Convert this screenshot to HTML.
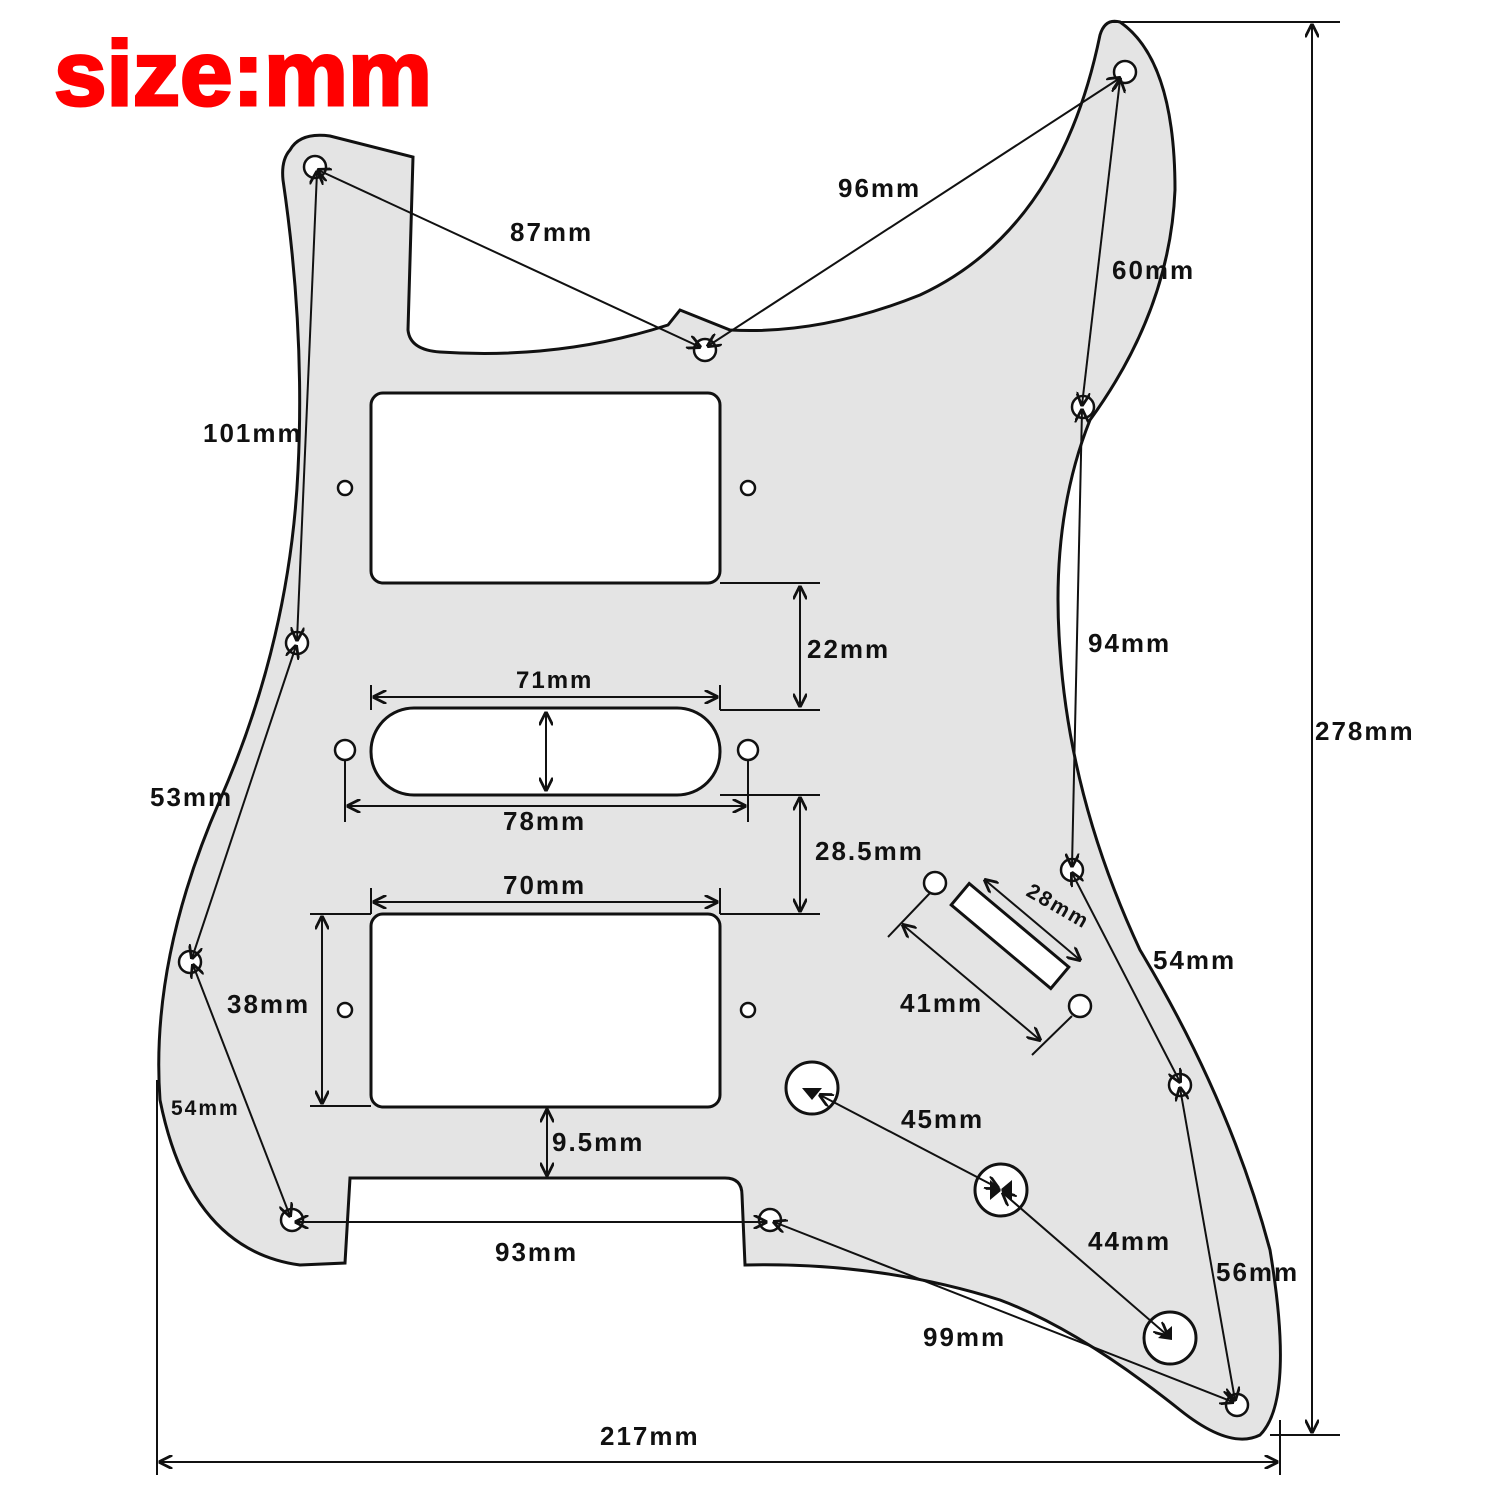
<!DOCTYPE html>
<html><head><meta charset="utf-8"><style>
html,body{margin:0;padding:0;background:#fff;}
svg{display:block;}
text{font-family:"Liberation Sans",sans-serif;font-weight:bold;fill:#111;}
</style></head><body>
<svg width="1500" height="1500" viewBox="0 0 1500 1500" xmlns="http://www.w3.org/2000/svg">
<defs>
<marker id="a" viewBox="0 0 10 10" refX="9" refY="5" markerWidth="7" markerHeight="7" orient="auto-start-reverse"><path d="M0,0 L10,5 L0,10" fill="none" stroke="#111" stroke-width="2"/></marker>
</defs>
<text x="54" y="105" font-size="92" style="fill:#f00;stroke:#f00;stroke-width:3" textLength="378" lengthAdjust="spacingAndGlyphs">size:mm</text>

<path d="M290,150 Q300,132 330,136 L413,157 L408,330 Q410,350 440,352 Q560,360 668,325 L680,310 L730,330 Q820,335 920,295 Q1060,230 1100,35 Q1105,18 1120,22 Q1175,60 1175,190 Q1170,310 1090,420 Q1050,520 1060,650 Q1070,800 1140,950 Q1230,1100 1270,1250 Q1295,1400 1260,1435 Q1230,1450 1180,1410 Q1080,1330 1000,1300 Q880,1262 745,1265 L742,1195 Q742,1178 725,1178 L350,1178 L345,1263 L300,1265 Q190,1250 160,1100 Q150,960 220,800 Q290,640 298,470 Q305,330 283,180 Q281,160 290,150 Z" fill="#e4e4e4" stroke="#111" stroke-width="3"/>

<g fill="#fff" stroke="#111" stroke-width="3">
<rect x="371" y="393" width="349" height="190" rx="12"/>
<rect x="371" y="708" width="349" height="87" rx="43"/>
<rect x="371" y="914" width="349" height="193" rx="12"/>
<rect x="945" y="922" width="130" height="28" transform="rotate(40 1010 936)"/>
<circle cx="812" cy="1088" r="26"/><circle cx="1001" cy="1190" r="26"/><circle cx="1170" cy="1338" r="26"/>
</g>
<g fill="#fff" stroke="#111" stroke-width="2.5">
<circle cx="315" cy="167" r="11"/><circle cx="1125" cy="72" r="11"/><circle cx="705" cy="350" r="11"/><circle cx="1083" cy="407" r="11"/><circle cx="297" cy="643" r="11"/><circle cx="1072" cy="870" r="11"/><circle cx="190" cy="962" r="11"/><circle cx="1180" cy="1085" r="11"/><circle cx="292" cy="1220" r="11"/><circle cx="770" cy="1220" r="11"/><circle cx="1237" cy="1405" r="11"/>
<circle cx="345" cy="488" r="7"/><circle cx="748" cy="488" r="7"/><circle cx="345" cy="1010" r="7"/><circle cx="748" cy="1010" r="7"/>
<circle cx="345" cy="750" r="10"/><circle cx="748" cy="750" r="10"/><circle cx="935" cy="883" r="11"/><circle cx="1080" cy="1006" r="11"/>
</g>
<g fill="#111"><path d="M812,1100 l-10,-12 h20z"/><path d="M990,1180 l12,10 l-12,10z M1012,1180 l-12,10 l12,10z"/><path d="M1158,1338 l14,-12 v14z"/></g>

<g stroke="#111" stroke-width="2" fill="none">
<line x1="1110" y1="22" x2="1340" y2="22"/><line x1="1270" y1="1435" x2="1340" y2="1435"/>
<line x1="157" y1="1080" x2="157" y2="1475"/><line x1="1280" y1="1420" x2="1280" y2="1475"/>
<line x1="720" y1="583" x2="820" y2="583"/><line x1="720" y1="710" x2="820" y2="710"/>
<line x1="720" y1="795" x2="820" y2="795"/><line x1="720" y1="914" x2="820" y2="914"/>
<line x1="371" y1="685" x2="371" y2="710"/><line x1="720" y1="685" x2="720" y2="710"/>
<line x1="371" y1="888" x2="371" y2="914"/><line x1="720" y1="888" x2="720" y2="914"/>
<line x1="345" y1="760" x2="345" y2="822"/><line x1="748" y1="760" x2="748" y2="822"/>
<line x1="310" y1="914" x2="371" y2="914"/><line x1="310" y1="1106" x2="371" y2="1106"/>
<line x1="888" y1="937" x2="930" y2="893"/><line x1="1032" y1="1055" x2="1072" y2="1016"/>
</g>
<g stroke="#111" stroke-width="2" fill="none" marker-start="url(#a)" marker-end="url(#a)">
<line x1="1312" y1="25" x2="1312" y2="1432"/>
<line x1="160" y1="1462" x2="1277" y2="1462"/>
<line x1="800" y1="587" x2="800" y2="706"/>
<line x1="800" y1="798" x2="800" y2="911"/>
<line x1="374" y1="697" x2="717" y2="697"/>
<line x1="348" y1="806" x2="745" y2="806"/>
<line x1="374" y1="902" x2="717" y2="902"/>
<line x1="322" y1="917" x2="322" y2="1103"/>
<line x1="547" y1="1110" x2="547" y2="1175"/>
<line x1="546" y1="713" x2="546" y2="790"/>
<line x1="318" y1="170" x2="700" y2="347"/>
<line x1="1120" y1="78" x2="708" y2="346"/>
<line x1="1120" y1="80" x2="1082" y2="405"/>
<line x1="1082" y1="410" x2="1072" y2="866"/>
<line x1="1072" y1="873" x2="1180" y2="1082"/>
<line x1="1180" y1="1088" x2="1235" y2="1400"/>
<line x1="774" y1="1222" x2="1233" y2="1402"/>
<line x1="296" y1="1222" x2="766" y2="1222"/>
<line x1="193" y1="965" x2="290" y2="1216"/>
<line x1="296" y1="646" x2="192" y2="958"/>
<line x1="317" y1="172" x2="297" y2="640"/>
<line x1="820" y1="1095" x2="998" y2="1188"/>
<line x1="1003" y1="1193" x2="1167" y2="1335"/>
<line x1="985" y1="880" x2="1080" y2="960"/>
<line x1="903" y1="925" x2="1040" y2="1040"/>
</g>

<g font-size="26" letter-spacing="2">
<text x="838" y="197">96mm</text>
<text x="510" y="241">87mm</text>
<text x="1112" y="279">60mm</text>
<text x="203" y="442">101mm</text>
<text x="807" y="658">22mm</text>
<text x="1088" y="652">94mm</text>
<text x="1315" y="740">278mm</text>
<text x="516" y="688" font-size="24">71mm</text>
<text x="150" y="806">53mm</text>
<text x="503" y="830">78mm</text>
<text x="815" y="860">28.5mm</text>
<text x="503" y="894">70mm</text>
<text x="1025" y="895" font-size="21" transform="rotate(30 1025 895)">28mm</text>
<text x="1153" y="969">54mm</text>
<text x="227" y="1013">38mm</text>
<text x="900" y="1012">41mm</text>
<text x="171" y="1115" font-size="21">54mm</text>
<text x="901" y="1128">45mm</text>
<text x="552" y="1151">9.5mm</text>
<text x="1088" y="1250">44mm</text>
<text x="495" y="1261">93mm</text>
<text x="1216" y="1281">56mm</text>
<text x="923" y="1346">99mm</text>
<text x="600" y="1445">217mm</text>
</g>
</svg>
</body></html>
